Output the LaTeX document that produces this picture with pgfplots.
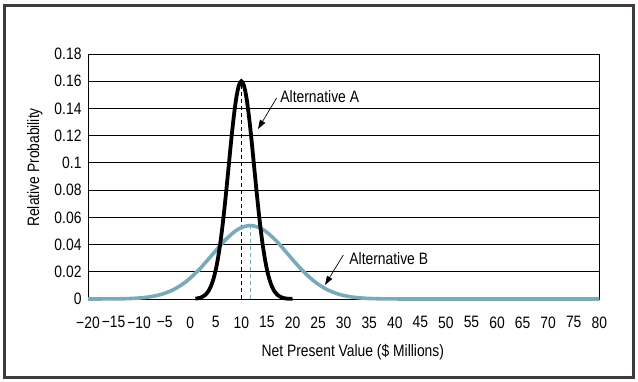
\documentclass[border=0pt]{standalone}
\usepackage{fontspec}
\setmainfont{Liberation Sans}[FakeStretch=0.84]
\usepackage{pgfplots}
\pgfplotsset{compat=1.18}
\usetikzlibrary{arrows.meta}
\definecolor{altb}{RGB}{122,170,186}
\definecolor{framegray}{RGB}{64,58,62}
\newcommand{\cfont}{\fontsize{16.5}{18}\selectfont}
\begin{document}
\begin{tikzpicture}[x=1pt,y=1pt]
\path (0,0) rectangle (638,382);
\draw[framegray, line width=2.6pt] (4.6,4.4) rectangle (633.7,376.6);
\begin{axis}[
  at={(88pt,83pt)}, anchor=south west,
  scale only axis, width=511.3pt, height=245pt,
  xmin=-20, xmax=80, ymin=0, ymax=0.18,
  clip=false,
  axis line style={black, line width=0.9pt},
  major tick length=0pt,
  xtick={-20,-15,...,80},
  xticklabels={−20,−15,−10,−5,0,5,10,15,20,25,30,35,40,45,50,55,60,65,70,75,80},
  ytick={0,0.02,0.04,0.06,0.08,0.1,0.12,0.14,0.16,0.18},
  yticklabels={0,0.02,0.04,0.06,0.08,0.1,0.12,0.14,0.16,0.18},
  scaled y ticks=false,
  ymajorgrids,
  grid style={black, line width=0.9pt},
  tick label style={font=\cfont},
  xticklabel style={yshift=-14pt},
  yticklabel style={xshift=-3pt},
  /pgf/number format/assume math mode=true,
  xlabel={Net Present Value (\$ Millions)},
  ylabel={Relative Probability},
  label style={font=\cfont},
  xlabel style={at={(axis description cs:0.518,0)}, anchor=center, yshift=-53pt},
  ylabel style={at={(axis description cs:-0.1037,0.537)}, anchor=center},
]
% dashed mean lines
\addplot[black, dashed, line width=0.9pt, dash pattern=on 4pt off 3pt] coordinates {(10,0) (10,0.16)};
\addplot[altb, dashed, line width=0.9pt, dash pattern=on 4pt off 3pt] coordinates {(11.75,0) (11.75,0.054)};
% Alternative B
\addplot[altb, line width=3.6pt, smooth, tension=0.5] coordinates {
(-20,0) (-18.25,0.00001) (-13.25,0.00018) (-10.75,0.00053) (-8.25,0.0014)
(-5.75,0.00329) (-3.25,0.00692) (-0.75,0.01296) (1.75,0.02167) (4.25,0.0323)
(6.75,0.0430) (9.25,0.0510) (11.75,0.054) (14.25,0.0510) (16.75,0.0430)
(19.25,0.0323) (21.75,0.02167) (24.25,0.01296) (26.75,0.00692) (29.25,0.00329)
(31.75,0.0014) (34.25,0.00053) (36.75,0.00018) (41.75,0.00001) (50,0) (80,0)};
% Alternative A
\addplot[black, line width=3.8pt, smooth, tension=0.5] coordinates {
(1,0.00025) (2,0.00096) (3,0.00317) (3.5,0.00545) (4,0.00898) (4.5,0.0142)
(5,0.02165) (5.5,0.0317) (6,0.0445) (6.5,0.0600) (7,0.0779) (7.5,0.0970)
(8,0.1162) (8.5,0.1336) (9,0.1477) (9.5,0.1568) (10,0.16)
(10.5,0.1568) (11,0.1477) (11.5,0.1336) (12,0.1162) (12.5,0.0970) (13,0.0779)
(13.5,0.0600) (14,0.0445) (14.5,0.0317) (15,0.02165) (15.5,0.0142) (16,0.00898)
(16.5,0.00545) (17,0.00317) (18,0.00096) (19,0.00025) (20,0.00025)};
% annotations
\node[anchor=west, font=\cfont, inner sep=0pt] at (axis cs:17.6,0.1484) {Alternative A};
\draw[-{Triangle[length=9pt,width=6pt]}, line width=0.7pt] (axis cs:16.9,0.1477) -- (axis cs:13.25,0.1249);
\node[anchor=west, font=\cfont, inner sep=0pt] at (axis cs:31.1,0.0299) {Alternative B};
\draw[-{Triangle[length=9pt,width=6pt]}, line width=0.7pt] (axis cs:29.93,0.0323) -- (axis cs:26.35,0.0103);
\end{axis}
\end{tikzpicture}
\end{document}
